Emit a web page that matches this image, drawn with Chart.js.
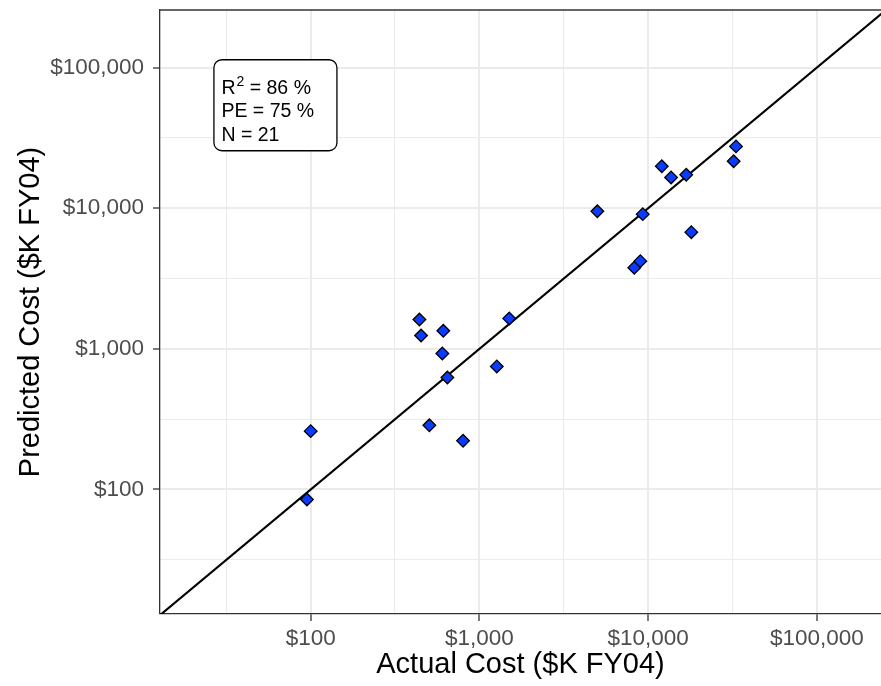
<!DOCTYPE html>
<html>
<head>
<meta charset="utf-8">
<title>Actual vs Predicted Cost</title>
<script src="https://cdn.jsdelivr.net/npm/chart.js@4.4.1/dist/chart.umd.min.js"></script>
<style>
  html, body { margin: 0; padding: 0; background: #fff; }
  #wrap { width: 881px; height: 686px; position: relative; }
</style>
</head>
<body>
<div id="wrap"><canvas id="costChart"></canvas></div>
<script>
// -------------------------
// Data ($K FY04)
// -------------------------
const actualCost = [95, 100, 505, 800, 441, 451, 611, 603, 646, 1268, 1503,
  5000, 9290, 8280, 8990, 12050, 13680, 16820, 18030, 32130, 33180];
const predictedCost = [85, 260, 286, 222, 1618, 1245, 1346, 927, 626, 750, 1644,
  9520, 9080, 3777, 4205, 19900, 16560, 17300, 6760, 21580, 27540];

// y = x reference line end points
const parityLine = [10, 1000000];

// log axis breaks (ggplot style: majors per decade, minors half-way in log space)
const majorTicks = [100, 1000, 10000, 100000];
const minorTicks = [31.62, 316.2, 3162, 31623];

// fit stats shown in the label box
const statR2 = "86 %";
const statPE = "75 %";
const statN = "21";

// -------------------------
// Style helpers
// -------------------------
const FONT = '"Liberation Sans", Arial, Helvetica, sans-serif';
const allTicks = [...minorTicks, ...majorTicks].sort((a, b) => a - b);
const isMajor = v => majorTicks.some(m => Math.abs(m - v) < 1e-6);
const money = v => "$" + Math.round(v).toLocaleString("en-US");

function logAxis(min, max, title, titlePadding) {
  return {
    type: "logarithmic",
    min,
    max,
    afterBuildTicks: axis => {
      axis.ticks = allTicks.filter(v => v >= min && v <= max).map(v => ({ value: v }));
    },
    ticks: {
      autoSkip: false,
      maxRotation: 0,
      color: "#4D4D4D",
      font: { family: FONT, size: 22.5 },
      callback: v => (isMajor(v) ? money(v) : ""),
    },
    grid: {
      color: "#EBEBEB",
      lineWidth: ctx => (ctx.tick && isMajor(ctx.tick.value) ? 2 : 1.1),
      tickColor: ctx => (ctx.tick && isMajor(ctx.tick.value) ? "#333333" : "rgba(0,0,0,0)"),
      tickWidth: 1.3,
      tickLength: 7,
    },
    border: { display: true, color: "#333333", width: 1.3 },
    title: {
      display: true,
      text: title,
      color: "#000",
      font: { family: FONT, size: 29 },
      padding: titlePadding,
    },
  };
}

// -------------------------
// Label box plugin (R², PE, N)
// -------------------------
const statBox = {
  id: "statBox",
  afterDraw(chart) {
    const { ctx, scales } = chart;
    const left = scales.x.getPixelForValue(26.7);
    const top = scales.y.getPixelForValue(113800);
    const w = 123, h = 91, r = 8;

    ctx.save();
    ctx.beginPath();
    ctx.moveTo(left + r, top);
    ctx.arcTo(left + w, top, left + w, top + h, r);
    ctx.arcTo(left + w, top + h, left, top + h, r);
    ctx.arcTo(left, top + h, left, top, r);
    ctx.arcTo(left, top, left + w, top, r);
    ctx.closePath();
    ctx.fillStyle = "#fff";
    ctx.fill();
    ctx.lineWidth = 1.3;
    ctx.strokeStyle = "#000";
    ctx.stroke();

    ctx.fillStyle = "#000";
    ctx.textBaseline = "alphabetic";
    ctx.textAlign = "left";
    const tx = left + 7.5;
    const size = 19.5;

    ctx.font = `${size}px ${FONT}`;
    ctx.fillText("R", tx, top + 34);
    const rw = ctx.measureText("R").width;
    ctx.font = `14px ${FONT}`;
    ctx.fillText("2", tx + rw + 1, top + 26);
    const sw = ctx.measureText("2").width;
    ctx.font = `${size}px ${FONT}`;
    ctx.fillText(" = " + statR2, tx + rw + sw + 1, top + 34);
    ctx.fillText("PE = " + statPE, tx, top + 57.5);
    ctx.fillText("N = " + statN, tx, top + 81.5);
    ctx.restore();
  },
};

// top edge of the panel border
const panelTop = {
  id: "panelTop",
  afterDraw(chart) {
    const { ctx, chartArea } = chart;
    ctx.save();
    ctx.strokeStyle = "#333333";
    ctx.lineWidth = 1.3;
    ctx.beginPath();
    ctx.moveTo(chartArea.left, chartArea.top);
    ctx.lineTo(chartArea.right, chartArea.top);
    ctx.stroke();
    ctx.restore();
  },
};

// -------------------------
// Build chart
// -------------------------
const xAxis = logAxis(12.79, 240000, "Actual Cost ($K FY04)", { top: 0, bottom: 4 });
xAxis.ticks.padding = 4;
xAxis.afterFit = axis => {
  axis.height = 72;
  axis.paddingLeft = 0;
  axis.paddingRight = 0;
};

const yAxis = logAxis(13.02, 256900, "Predicted Cost ($K FY04)", { top: 14, bottom: 0 });
yAxis.ticks.padding = 9;
yAxis.afterFit = axis => {
  axis.width = 160;
  axis.paddingTop = 0;
  axis.paddingBottom = 0;
};

new Chart(document.getElementById("costChart"), {
  type: "scatter",
  data: {
    datasets: [
      {
        label: "Programs",
        data: actualCost.map((x, i) => ({ x, y: predictedCost[i] })),
        pointStyle: "rectRot",
        pointRadius: 6.3,
        pointHoverRadius: 6.3,
        backgroundColor: "#0A3CFF",
        borderColor: "#000",
        borderWidth: 1.3,
        order: 0,
      },
      {
        label: "y = x",
        data: parityLine.map(v => ({ x: v, y: v })),
        showLine: true,
        pointRadius: 0,
        borderColor: "#000",
        borderWidth: 2.2,
        order: 1,
      },
    ],
  },
  options: {
    responsive: true,
    maintainAspectRatio: false,
    animation: false,
    layout: { autoPadding: false, padding: { top: 10, right: 0, left: 0, bottom: 0 } },
    plugins: {
      legend: { display: false },
      tooltip: { enabled: false },
    },
    scales: { x: xAxis, y: yAxis },
  },
  plugins: [statBox, panelTop],
});
</script>
</body>
</html>
